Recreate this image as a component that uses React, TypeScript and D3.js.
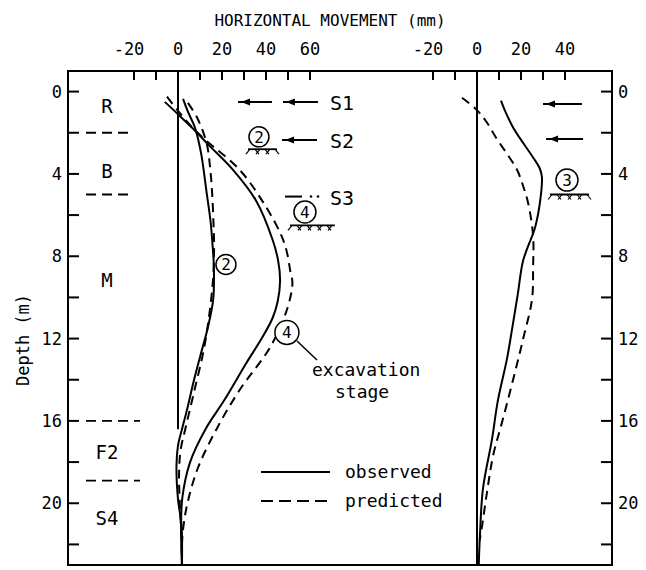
import React from "react";
import * as d3 from "d3";

// Wall deflection profiles: [depth (m), horizontal movement (mm)]
const stage2Observed: [number, number][] = [
  [0.35, 2.3], [1.0, 4.6], [1.75, 7.7], [3.0, 10.5], [4.9, 13], [6.3, 14.8], [7.6, 15.8],
  [8.5, 16.3], [10.1, 16], [11.5, 13.5], [12.5, 11], [14, 7.3], [15.5, 4], [16.4, 1.8],
  [17.2, 0], [18.2, -0.7], [19.8, 0], [21.1, 1.6], [23, 1.8],
];
const stage2Predicted: [number, number][] = [
  [0.55, 4.5], [1.25, 8.6], [2.5, 13], [3.7, 14.6], [4.9, 15.5], [6.3, 16.1], [7.6, 16.4],
  [9, 16], [10.6, 14.5], [12.5, 11.8], [14.5, 7.5], [16.4, 3.3], [17.4, 1.2], [18.5, 0.5],
  [20, 0.8], [21.5, 1.5], [23, 1.8],
];
const stage4Observed: [number, number][] = [
  [0.5, -6], [1.1, 0], [1.8, 6.8], [2.6, 14], [3.8, 25], [5.3, 35.5], [7.2, 43], [8.2, 45.5],
  [9.2, 46.4], [10.2, 45.3], [11.0, 43], [12.0, 38], [13.2, 31], [15, 21], [16.4, 12.5],
  [18, 5.5], [19.7, 2], [21.1, 1.4], [23, 1.8],
];
const stage4Predicted: [number, number][] = [
  [0.25, -5], [1.0, 0.5], [1.8, 7], [2.4, 13], [3.8, 28], [5.6, 40], [7.0, 47], [7.8, 49.5],
  [8.7, 51], [9.3, 52], [10.6, 49.5], [12.4, 42], [14.5, 28], [16.4, 17.5], [18.3, 9],
  [20, 4.3], [21.1, 2.5], [22, 1.8], [23, 1.8],
];
const stage3Observed: [number, number][] = [
  [0.44, 10.9], [1.0, 13], [1.74, 16.4], [2.5, 21], [3.2, 25.5], [3.7, 28.4], [4.15, 29.5],
  [5.4, 28.6], [6.6, 26.4], [8.2, 21], [9.8, 18.6], [11.5, 16], [13, 13.6], [15, 9.5],
  [16.9, 6.8], [19.3, 2.7], [21.4, 1.4], [23, 0.8],
];
const stage3Predicted: [number, number][] = [
  [0.3, -6.8], [0.9, 0], [1.5, 4.5], [2.3, 9], [3.0, 13.5], [3.8, 18.2], [4.6, 21],
  [5.4, 23.2], [7.0, 25.5], [8.5, 25.5], [10.1, 25], [12, 21], [14, 16.4], [15.9, 11.8],
  [17.7, 7.3], [19.5, 4.5], [21.1, 2.3], [21.8, 1.2],
];

// Soil layers
const layerBoundaries = [2, 5, 16, 18.9];
const layerNames = ["R", "B", "M", "F2", "S4"];
const layerLabelDepths = [0.7, 3.86, 9.15, 17.5, 20.7];

// Axes
const depthTicks = [0, 2, 4, 6, 8, 10, 12, 14, 16, 18, 20, 22];
const depthLabels = [0, 4, 8, 12, 16, 20];
const leftMoveTicks = [-20, -10, 0, 10, 20, 30, 40, 50, 60];
const leftMoveLabels = [-20, 0, 20, 40, 60];
const rightMoveTicks = [-20, -10, 0, 10, 20, 30, 40];
const rightMoveLabels = [-20, 0, 20, 40];

const W = 646;
const H = 570;
const frame = { left: 68, right: 612, top: 71, bottom: 565 };

const MONO = "'DejaVu Sans Mono', 'Liberation Mono', monospace";

const y = d3.scaleLinear().domain([-1, 23]).range([frame.top, frame.bottom]);
const xL = d3.scaleLinear().domain([-50, 60]).range([68, 310]);
const xR = d3.scaleLinear().domain([-20, 40]).range([433, 565]);

function profile(data: [number, number][], xs: d3.ScaleLinear<number, number>) {
  return (
    d3
      .line<[number, number]>()
      .x((p) => xs(p[1]))
      .y((p) => y(p[0]))
      .curve(d3.curveCatmullRom.alpha(0.5))(data) || ""
  );
}

function Hatch({ x0, x1, yy }: { x0: number; x1: number; yy: number }) {
  const marks = d3.range(x0 + 2, x1 - 1, 5);
  return (
    <g stroke="#000" strokeWidth={1.2}>
      <line x1={x0} x2={x1} y1={yy} y2={yy} strokeWidth={1.8} />
      {marks.map((m, i) => (
        <line key={i} x1={m} y1={yy} x2={m + (i % 2 ? 4 : -4)} y2={yy + 5} />
      ))}
    </g>
  );
}

function Badge({ cx, cy, r, label }: { cx: number; cy: number; r: number; label: string }) {
  return (
    <g>
      <circle cx={cx} cy={cy} r={r} fill="#fff" stroke="#000" strokeWidth={1.5} />
      <text x={cx} y={cy + 6} textAnchor="middle" fontFamily={MONO} fontSize={16}>
        {label}
      </text>
    </g>
  );
}

function Arrow({ x0, x1, yy }: { x0: number; x1: number; yy: number }) {
  // head at x0, pointing left
  return (
    <g>
      <line x1={x0} x2={x1} y1={yy} y2={yy} stroke="#000" strokeWidth={2} />
      <path d={`M${x0 + 3},${yy} l9,-3.5 l0,7 z`} fill="#000" />
    </g>
  );
}

export default function App() {
  const dash = "9,6";
  return (
    <svg
      width={W}
      height={H}
      style={{ position: "absolute", left: 0, top: 0, background: "#fff" }}
      fontFamily={MONO}
    >
      <rect x={0} y={0} width={W} height={H} fill="#fff" />

      {/* title */}
      <text x={330} y={26} textAnchor="middle" fontSize={16}>
        HORIZONTAL MOVEMENT (mm)
      </text>

      {/* frame */}
      <rect
        x={frame.left}
        y={frame.top}
        width={frame.right - frame.left}
        height={frame.bottom - frame.top}
        fill="none"
        stroke="#000"
        strokeWidth={2}
      />

      {/* top ticks and labels */}
      {leftMoveTicks.map((t) => (
        <line key={"lt" + t} x1={xL(t)} x2={xL(t)} y1={frame.top} y2={frame.top + 9} stroke="#000" strokeWidth={2} />
      ))}
      {rightMoveTicks.map((t) => (
        <line key={"rt" + t} x1={xR(t)} x2={xR(t)} y1={frame.top} y2={frame.top + 9} stroke="#000" strokeWidth={2} />
      ))}
      {leftMoveLabels.map((t) => (
        <text key={"ll" + t} x={xL(t) - (t < 0 ? 5 : 0)} y={55} textAnchor="middle" fontSize={17}>
          {t}
        </text>
      ))}
      {rightMoveLabels.map((t) => (
        <text key={"rl" + t} x={xR(t) - (t < 0 ? 5 : 0)} y={55} textAnchor="middle" fontSize={17}>
          {t}
        </text>
      ))}

      {/* depth ticks and labels */}
      {depthTicks.map((d) => (
        <g key={"d" + d}>
          <line x1={frame.left} x2={frame.left + 11} y1={y(d)} y2={y(d)} stroke="#000" strokeWidth={2} />
          <line x1={frame.right} x2={frame.right - 11} y1={y(d)} y2={y(d)} stroke="#000" strokeWidth={2} />
        </g>
      ))}
      {depthLabels.map((d) => (
        <g key={"dl" + d}>
          <text x={62} y={y(d) + 6} textAnchor="end" fontSize={17}>
            {d}
          </text>
          <text x={618} y={y(d) + 6} textAnchor="start" fontSize={17}>
            {d}
          </text>
        </g>
      ))}
      <text transform={`translate(29,${340}) rotate(-90)`} textAnchor="middle" fontSize={17}>
        Depth (m)
      </text>

      {/* wall reference lines */}
      <line x1={xL(0)} x2={xL(0)} y1={frame.top} y2={y(16.4)} stroke="#000" strokeWidth={2} />
      <line x1={xR(0)} x2={xR(0)} y1={frame.top} y2={frame.bottom} stroke="#000" strokeWidth={2} />

      {/* soil layers */}
      {layerBoundaries.map((b, i) => (
        <line
          key={"lb" + i}
          x1={86}
          x2={b > 10 ? 140 : 134}
          y1={y(b)}
          y2={y(b)}
          stroke="#000"
          strokeWidth={1.8}
          strokeDasharray="10,6"
        />
      ))}
      {layerNames.map((n, i) => (
        <text key={"ln" + n} x={107} y={y(layerLabelDepths[i]) + 7} textAnchor="middle" fontSize={19}>
          {n}
        </text>
      ))}

      {/* profiles, left panel */}
      <path d={profile(stage2Observed, xL)} fill="none" stroke="#000" strokeWidth={2} />
      <path d={profile(stage2Predicted, xL)} fill="none" stroke="#000" strokeWidth={2} strokeDasharray={dash} />
      <path d={profile(stage4Observed, xL)} fill="none" stroke="#000" strokeWidth={2} />
      <path d={profile(stage4Predicted, xL)} fill="none" stroke="#000" strokeWidth={2} strokeDasharray={dash} />

      {/* profiles, right panel */}
      <path d={profile(stage3Observed, xR)} fill="none" stroke="#000" strokeWidth={2} />
      <path d={profile(stage3Predicted, xR)} fill="none" stroke="#000" strokeWidth={2} strokeDasharray={dash} />

      {/* struts and excavation levels, left panel */}
      <Arrow x0={xL(27.3)} x1={xL(42.7)} yy={y(0.5)} />
      <Arrow x0={xL(47.7)} x1={xL(63.6)} yy={y(0.5)} />
      <text x={330} y={y(0.5) + 8} fontSize={20}>S1</text>
      <Badge cx={xL(36.8)} cy={y(2.2)} r={10} label="2" />
      <Hatch x0={xL(31.8)} x1={xL(45)} yy={y(2.8)} />
      <Arrow x0={xL(47.3)} x1={xL(63.2)} yy={y(2.35)} />
      <text x={330} y={y(2.35) + 8} fontSize={20}>S2</text>
      <line x1={285} x2={302} y1={y(5.1)} y2={y(5.1)} stroke="#000" strokeWidth={2} />
      <circle cx={311} cy={y(5.1)} r={1.3} fill="#000" />
      <circle cx={318} cy={y(5.1)} r={1.3} fill="#000" />
      <text x={330} y={y(5.1) + 8} fontSize={20}>S3</text>
      <Badge cx={xL(57.7)} cy={y(5.85)} r={11} label="4" />
      <Hatch x0={xL(50.9)} x1={xL(71.3)} yy={y(6.5)} />

      {/* stage labels on curves */}
      <Badge cx={xL(21.8)} cy={y(8.4)} r={10} label="2" />
      <Badge cx={xL(49.5)} cy={y(11.7)} r={12} label="4" />
      <line x1={297} y1={341} x2={317} y2={360} stroke="#000" strokeWidth={1.5} />
      <text x={312} y={376} fontSize={18}>excavation</text>
      <text x={335} y={398} fontSize={18}>stage</text>

      {/* struts and excavation level, right panel */}
      <Arrow x0={xR(30) } x1={xR(47.7)} yy={y(0.6)} />
      <Arrow x0={xR(31.4)} x1={xR(48.2)} yy={y(2.3)} />
      <Badge cx={xR(40.9)} cy={y(4.3)} r={11} label="3" />
      <Hatch x0={xR(33.2)} x1={xR(50.9)} yy={y(5.0)} />

      {/* legend */}
      <line x1={261} x2={330} y1={472} y2={472} stroke="#000" strokeWidth={2} />
      <text x={345} y={478} fontSize={18}>observed</text>
      <line x1={261} x2={330} y1={501} y2={501} stroke="#000" strokeWidth={2} strokeDasharray="12,6" />
      <text x={345} y={507} fontSize={18}>predicted</text>
    </svg>
  );
}
